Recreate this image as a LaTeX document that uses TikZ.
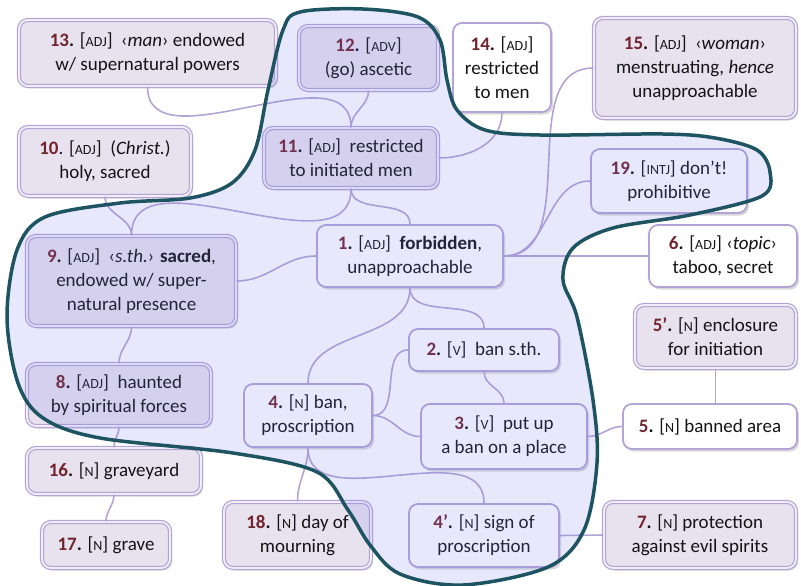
\documentclass[tikz,border=0pt]{standalone}
\usepackage{fontspec}
\setmainfont{Carlito}
\usepackage{xcolor}
\usepackage{tikz}
\usetikzlibrary{shadows}

\definecolor{numred}{RGB}{112,36,46}
\definecolor{boxline}{RGB}{180,164,214}
\definecolor{boxfill}{RGB}{232,226,238}
\definecolor{boxgap}{RGB}{242,238,248}
\definecolor{blobtint}{RGB}{120,120,240}
\definecolor{blobline}{RGB}{30,84,98}

\newcommand{\sn}[1]{\textcolor{numred}{\textbf{#1}}\textbf{.}}
\newcommand{\pos}[1]{{\fontsize{14}{14}\selectfont #1}}

\begin{document}
\begin{tikzpicture}[
  x=1pt, y=-1pt,
  sense/.style={rounded corners=9pt, align=center, inner sep=0pt,
    font=\fontsize{19}{24}\selectfont, text=black!92,
    drop shadow={shadow xshift=2pt, shadow yshift=-2.5pt, opacity=0.25, fill=black!60}},
  sense_plain/.style={sense, draw=boxline, line width=1.8pt, fill=white},
  sense_ext/.style={sense, draw=boxline, line width=1.2pt, double=boxgap, double distance=1.8pt, fill=boxfill},
  link/.style={draw=boxline, line width=1.6pt},
  blob_fill/.style={fill=blobtint, fill opacity=0.17},
  blob_edge/.style={draw=blobline, line width=3.5pt}
]
  \useasboundingbox (0,0) rectangle (801,586);

  % Senses, top row
  \node[sense_ext, minimum width=257pt, minimum height=66pt] (s13) at (147.5,53) {\sn{13} [\pos{ADJ}]~ ‹\textit{man}› endowed\\ w/ supernatural powers};
  \node[sense_ext, minimum width=139pt, minimum height=64pt] (s12) at (368.5,58) {\sn{12} [\pos{ADV}]\\ (go) ascetic};
  \node[sense_plain, minimum width=98pt, minimum height=89pt] (s14) at (502,67.5) {\sn{14} [\pos{ADJ}]\\ restricted\\ to men};
  \node[sense_ext, minimum width=202pt, minimum height=100pt] (s15) at (695,68) {\sn{15} [\pos{ADJ}]~ ‹\textit{woman}›\\ menstruating, \textit{hence}\\ unapproachable};

  % Senses, second row
  \node[sense_ext, minimum width=172pt, minimum height=69pt] (s10) at (105,161.5) {\textcolor{numred}{\textbf{10}}. [\pos{ADJ}]~ (\textit{Christ.})\\ holy, sacred};
  \node[sense_ext, minimum width=174pt, minimum height=60pt] (s11) at (351,158) {\sn{11} [\pos{ADJ}]~ restricted\\ to initiated men};
  \node[sense_plain, minimum width=156pt, minimum height=64pt] (s19) at (669,181) {\sn{19} [\pos{INTJ}] don’t!\\ prohibitive};

  % Core
  \node[sense_plain, minimum width=186pt, minimum height=62pt] (s1) at (410,256) {\sn{1} [\pos{ADJ}]~ \textbf{forbidden},\\ unapproachable};
  \node[sense_plain, minimum width=148pt, minimum height=62pt] (s6) at (723,256) {\sn{6} [\pos{ADJ}] ‹\textit{topic}›\\ taboo, secret};
  \node[sense_ext, minimum width=209pt, minimum height=90pt] (s9) at (131.5,281) {\sn{9} [\pos{ADJ}]~ ‹\textit{s.th.}› \textbf{sacred},\\ endowed w/ super-\\ natural presence};
  \node[sense_ext, minimum width=161pt, minimum height=63pt] (s5p) at (715.5,336.5) {\sn{5’} [\pos{N}] enclosure\\ for initiation};
  \node[sense_plain, minimum width=150pt, minimum height=42pt] (s2) at (484,350) {\sn{2} [\pos{V}]~ ban s.th.};

  % Lower part
  \node[sense_ext, minimum width=184pt, minimum height=62pt] (s8) at (119,395) {\sn{8} [\pos{ADJ}]~ haunted\\ by spiritual forces};
  \node[sense_plain, minimum width=128pt, minimum height=63pt] (s4) at (308,415.5) {\sn{4} [\pos{N}] ban,\\ proscription};
  \node[sense_plain, minimum width=166pt, minimum height=65pt] (s3) at (504,436.5) {\sn{3} [\pos{V}]~ put up\\ a ban on a place};
  \node[sense_plain, minimum width=174pt, minimum height=45pt] (s5) at (710,426.5) {\sn{5} [\pos{N}] banned area};
  \node[sense_ext, minimum width=174pt, minimum height=46pt] (s16) at (114,471) {\sn{16} [\pos{N}] graveyard};

  % Bottom row
  \node[sense_ext, minimum width=147pt, minimum height=66pt] (s18) at (297.5,535) {\sn{18} [\pos{N}] day of\\ mourning};
  \node[sense_ext, minimum width=128pt, minimum height=46pt] (s17) at (106,545) {\sn{17} [\pos{N}] grave};
  \node[sense_plain, minimum width=150pt, minimum height=63pt] (s4p) at (484,535.5) {\sn{4’} [\pos{N}] sign of\\ proscription};
  \node[sense_ext, minimum width=192pt, minimum height=66pt] (s7) at (700,535) {\sn{7} [\pos{N}] protection\\ against evil spirits};

  % Links
  \draw[link] (s13.south) to[out=-90, in=90] (s11.north);
  \draw[link] (s12.south) to[out=-90, in=90] (s11.north);
  \draw[link] (s14.south) to[out=-90, in=0] (s11.east);
  \draw[link] (s10.south) to[out=-90, in=90] (s9.north);
  \draw[link] (s11.south) to[out=-90, in=90] (s9.north);
  \draw[link] (s11.south) to[out=-90, in=90] (s1.north);
  \draw[link] (s9.east) to[out=0, in=180] (s1.west);
  \draw[link] (s9.south) to[out=-90, in=90] (s8.north);
  \draw[link] (s8.south) to[out=-90, in=90] (s16.north);
  \draw[link] (s16.south) to[out=-90, in=90] (s17.north);
  \draw[link] (s1.east) -- (s6.west);
  \draw[link] (s1.east) to[out=0, in=180] (s19.west);
  \draw[link] (s1.east) to[out=0, in=180] (s15.west);
  \draw[link] (s1.south) to[out=-90, in=90] (s4.north);
  \draw[link] (s1.south) to[out=-90, in=90] (s2.north);
  \draw[link] (s2.south) to[out=-90, in=90] (s3.north);
  \draw[link] (s4.east) to[out=0, in=180] (s2.west);
  \draw[link] (s4.east) to[out=0, in=180] (s3.west);
  \draw[link] (s4.south) to[out=-90, in=90] (s18.north);
  \draw[link] (s4.south) to[out=-90, in=90] (s4p.north);
  \draw[link] (s3.east) to[out=0, in=180] (s5.west);
  \draw[link] (s5p.south) -- (s5p.south |- s5.north);
  \draw[link] (s4p.east) -- (s7.west);

  % Core area
  \def\blobpath{plot[smooth cycle, tension=0.55] coordinates {
    (300,12) (363,9) (418,17) (440,40) (447,80) (457,110) (485,130) (540,135)
    (663,134) (715,138) (757,150) (770,172) (762,196) (690,215) (613,228)
    (573,248) (563,280) (577,317) (593,400) (597,463) (584,530) (548,567)
    (463,585) (400,574) (370,545) (348,510) (317,472) (233,453) (100,438)
    (43,418) (18,383) (7,317) (17,250) (45,217) (120,203) (190,198) (232,183)
    (255,150) (268,90) (283,30)}}
  \fill[blob_fill] \blobpath;
  \draw[blob_edge] \blobpath;

\end{tikzpicture}
\end{document}
